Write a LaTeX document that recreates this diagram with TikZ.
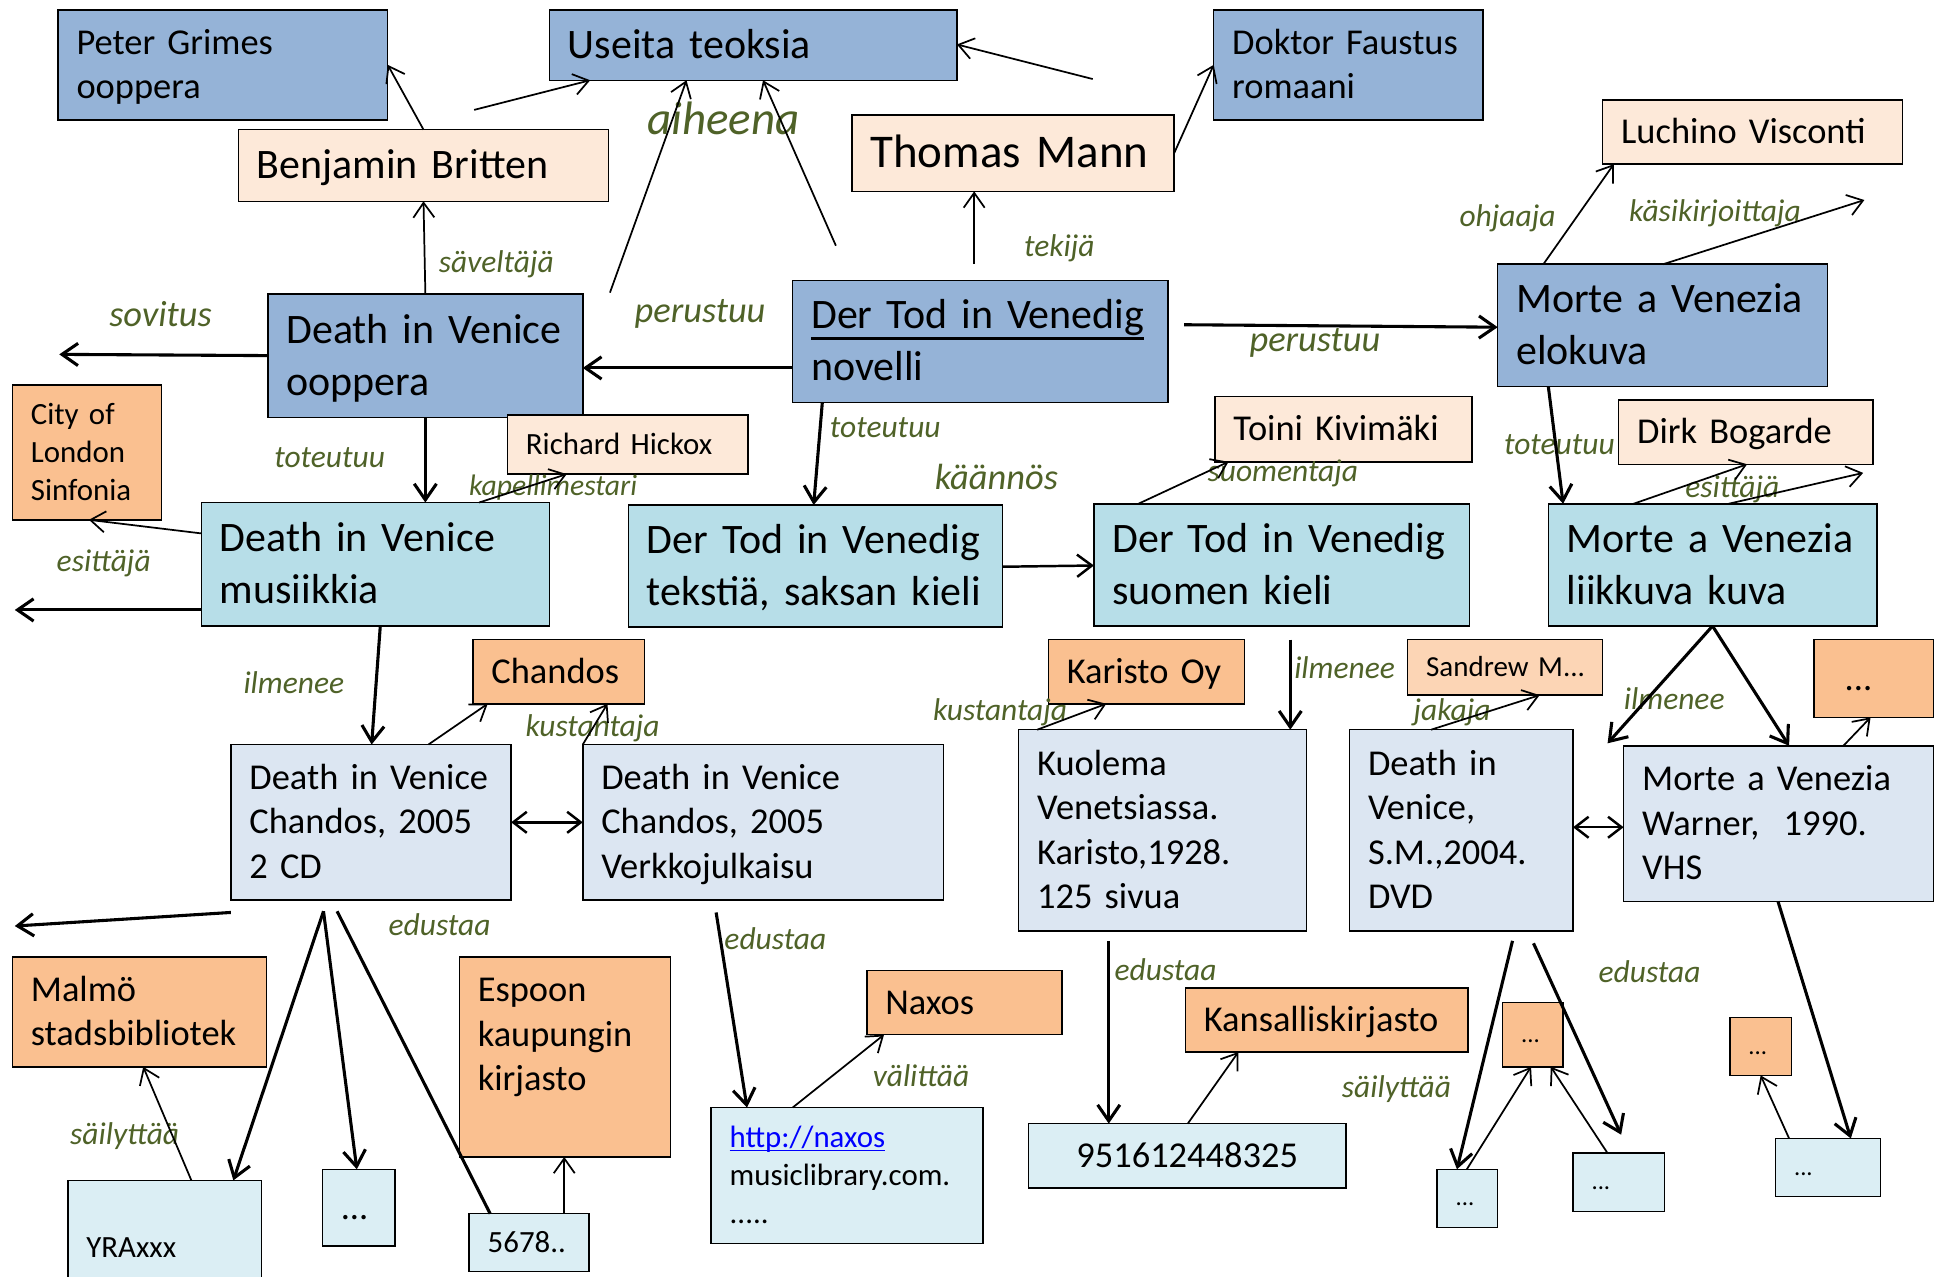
\documentclass[tikz,border=0pt]{standalone}
\usepackage{fontspec}
\setmainfont{Carlito}
\usepackage{tikz}
\usetikzlibrary{arrows.meta}

\definecolor{sininen}{HTML}{95B3D7}
\definecolor{turkoosi}{HTML}{B7DEE8}
\definecolor{haalea}{HTML}{DCE6F2}
\definecolor{vaalea}{HTML}{DBEEF4}
\definecolor{persikka}{HTML}{FDE9D9}
\definecolor{oranssi}{HTML}{FAC090}
\definecolor{aprikoosi}{HTML}{FCD5B5}
\definecolor{vihrea}{HTML}{4F6228}
\definecolor{linkki}{HTML}{0000FF}

% box: style, name, x1, y1, x2, y2, text
\newcommand{\mystrut}{\rule[-0.24\baselineskip]{0pt}{\baselineskip}}
\newcommand{\laatikko}[7]{%
  \pgfmathsetmacro\mywidth{#5-#3}%
  \pgfmathsetmacro\myheight{#6-#4}%
  \pgfmathsetmacro\mytext{#5-#3-30}%
  \node[boksi,#1,minimum width=\mywidth pt,minimum height=\myheight pt,text width=\mytext pt] (#2) at (#3,#4) {\mystrut #7\mystrut};%
}
\newcommand{\alleviiva}[3]{\setbox0\hbox{#1}\rlap{\rule[#2]{\wd0}{#3}}\box0}

\tikzset{
  boksi/.style={draw=black, line width=1.2pt, rectangle, anchor=north west, inner xsep=15pt, inner ysep=2pt, outer sep=0pt, align=left},
  teos/.style={fill=sininen},
  ilmaisu/.style={fill=turkoosi},
  julkaisu/.style={fill=haalea},
  kappale/.style={fill=vaalea},
  henkilo/.style={fill=persikka},
  yhteiso/.style={fill=oranssi},
  jakelija/.style={fill=aprikoosi},
  jattiiso/.style={font=\fontsize{38}{46}\selectfont},
  iso/.style={font=\fontsize{34}{42}\selectfont},
  keski/.style={font=\fontsize{29.5}{36}\selectfont},
  pieni/.style={font=\fontsize{25}{31}\selectfont},
  pisteet/.style={font=\fontsize{20}{24}\selectfont},
  suhde/.style={text=vihrea, inner sep=0pt, font=\itshape\fontsize{25.5}{30}\selectfont},
  suhdeiso/.style={suhde, font=\itshape\fontsize{29.5}{35}\selectfont},
  ohut/.style={line width=1.4pt, -{Straight Barb[length=12pt,width=17pt]}},
  vali/.style={line width=2pt, -{Straight Barb[length=12pt,width=18pt]}},
  paksu/.style={line width=2.5pt, -{Straight Barb[length=13pt,width=18pt]}},
  kaksi/.style={line width=2pt, {Straight Barb[length=11pt,width=17pt]}-{Straight Barb[length=11pt,width=17pt]}},
  viiva/.style={line width=2.5pt}
}

\begin{document}
\begin{tikzpicture}[x=1pt,y=-1pt]
\useasboundingbox (0,0) rectangle (1568,1034.25);
\fill[white] (0,0) rectangle (1568,1034.25);

% teokset
\laatikko{teos,keski}{peter}{47}{8}{314}{97}{Peter Grimes\\ooppera}
\laatikko{teos,iso}{useita}{445}{8}{775}{65}{Useita teoksia}
\laatikko{teos,keski}{faustus}{983}{8}{1201}{97}{Doktor Faustus\\romaani}
\laatikko{teos,iso}{dvooppera}{217}{238}{472}{338}{Death in Venice\\ooppera}
\laatikko{teos,iso}{novelli}{642}{227}{946}{326}{\alleviiva{Der Tod in Venedig}{-9pt}{2.6pt}\\novelli}
\laatikko{teos,iso}{elokuva}{1213}{214}{1480}{313}{Morte a Venezia\\elokuva}

% henkilot
\laatikko{henkilo,iso}{britten}{193}{105}{493}{163}{Benjamin Britten}
\laatikko{henkilo,jattiiso}{mann}{690}{93}{951}{155}{Thomas Mann}
\laatikko{henkilo,keski}{visconti}{1298}{81}{1541}{133}{Luchino Visconti}
\laatikko{henkilo,pieni}{hickox}{411}{336}{606}{384}{Richard Hickox}
\laatikko{henkilo,keski}{kivimaki}{984}{321}{1192}{374}{Toini Kivimäki}
\laatikko{henkilo,keski}{bogarde}{1311}{324}{1517}{376}{Dirk Bogarde}

% ilmaisut
\laatikko{ilmaisu,iso}{musiikkia}{163}{407}{445}{507}{Death in Venice\\musiikkia}
\laatikko{ilmaisu,iso}{saksa}{509}{409}{812}{508}{Der Tod in Venedig\\tekstiä, saksan kieli}
\laatikko{ilmaisu,iso}{suomi}{886}{408}{1190}{507}{Der Tod in Venedig\\suomen kieli}
\laatikko{ilmaisu,iso}{liikkuva}{1254}{408}{1520}{507}{Morte a Venezia\\liikkuva kuva}

% yhteisot
\laatikko{yhteiso,pieni}{sinfonia}{10}{312}{131}{421}{City of\\London\\Sinfonia}
\laatikko{yhteiso,keski}{chandos}{383}{518}{522}{570}{Chandos}
\laatikko{yhteiso,keski}{karisto}{849}{518}{1008}{570}{Karisto~Oy}
\laatikko{jakelija,font=\fontsize{23.5}{29}\selectfont}{sandrew}{1140}{518}{1298}{563}{Sandrew~M...}
\laatikko{yhteiso,keski}{kolme}{1469}{518}{1566}{581}{\hspace*{10pt}...}
\laatikko{yhteiso,keski}{malmo}{10}{775}{216}{864}{Malmö\\stadsbibliotek}
\laatikko{yhteiso,keski}{espoo}{372}{775}{543}{937}{Espoon\\kaupungin\\kirjasto\\\mbox{}}
\laatikko{yhteiso,keski}{naxos}{702}{786}{860}{838}{Naxos}
\laatikko{yhteiso,keski}{kansallis}{960}{800}{1189}{852}{Kansalliskirjasto}
\foreach \nimi/\xa/\ya/\xb/\yb in {oranssiA/1217/812/1266/864, oranssiB/1401/824/1451/871}
  \laatikko{yhteiso,pisteet}{\nimi}{\xa}{\ya}{\xb}{\yb}{...};

% julkaisut
\laatikko{julkaisu,keski}{cd}{187}{603}{414}{729}{Death in Venice\\Chandos, 2005\\2 CD}
\laatikko{julkaisu,keski}{verkko}{472}{603}{764}{729}{Death in Venice\\Chandos, 2005\\Verkkojulkaisu}
\laatikko{julkaisu,keski}{kuolema}{825}{591}{1058}{754}{Kuolema\\Venetsiassa.\\Karisto,1928.\\125 sivua}
\laatikko{julkaisu,keski}{dvd}{1093}{591}{1274}{754}{Death in\\Venice,\\S.M.,2004.\\DVD}
\laatikko{julkaisu,keski}{vhs}{1315}{604}{1566}{730}{Morte a Venezia\\Warner,~~1990.\\VHS}

% kappaleet
\laatikko{kappale,pieni}{yra}{55}{956}{212}{1064}{YRAxxx}
\laatikko{kappale,keski}{pisteA}{261}{947}{320}{1009}{...}
\laatikko{kappale,pieni}{numero}{380}{983}{477}{1030}{5678..}
\laatikko{kappale,pieni}{linkki}{576}{897}{796}{1007}{{\color{linkki}\alleviiva{http://naxos}{-3.5pt}{1.5pt}}\\musiclibrary.com.\\.....}
\laatikko{kappale,keski,align=center}{isbn}{833}{910}{1090}{962}{951612448325}
\foreach \nimi/\xa/\ya/\xb/\yb in {pisteB/1164/947/1213/994, pisteC/1274/934/1348/981, pisteD/1438/922/1523/969}
  \laatikko{kappale,pisteet}{\nimi}{\xa}{\ya}{\xb}{\yb}{...};

% suhteet
\foreach \x/\y/\teksti [count=\i] in {402/214/säveltäjä, 858/201/tekijä, 267/371/toteutuu, 717/346/toteutuu,
  1263/360/toteutuu, 84/456/esittäjä, 1403/396/esittäjä, 1221/177/ohjaaja, 1389/173/käsikirjoittaja,
  1039/383/suomentaja, 238/553/ilmenee, 1089/541/ilmenee, 1356/566/ilmenee, 480/590/kustantaja,
  810/577/kustantaja, 1176/577/jakaja, 356/749/edustaa, 628/760/edustaa, 944/785/edustaa,
  1336/787/edustaa, 101/920/säilyttää, 1131/882/säilyttää, 746/871/välittää}
  \node[suhde] (suhde\i) at (\x,\y) {\teksti};
\foreach \x/\y/\teksti [count=\i] in {130/254/sovitus, 567/254/perustuu, 1065/278/perustuu, 807/386/käännös}
  \node[suhdeiso] (suhdeiso\i) at (\x,\y) {\teksti};
\node[suhde, font=\itshape\fontsize{24}{28}\selectfont] (kapelli) at (448,395) {kapellimestari};
\node[suhde, font=\itshape\fontsize{38}{44}\selectfont] (aiheena) at (586,96) {aiheena};

% ylaosa
\coordinate (a1) at (384,89);
\coordinate (a2) at (494,237);
\coordinate (a3) at (677,199);
\coordinate (a4) at (885,64);
\coordinate (a5) at (789,214);
\coordinate (a6) at (48,287);
\coordinate (a7) at (12,494);
\coordinate (a8) at (1510,162);
\coordinate (a9) at (959,263);
\coordinate (a10) at (1509,383);
\draw[ohut] (britten.north) -- (peter.east);
\draw[ohut] (a1) -- (useita.south -| 478,0);
\draw[ohut] (dvooppera.north) -- (britten.south);
\draw[ohut] (a2) -- (useita.south -| 556,0);
\draw[ohut] (a3) -- (useita.south -| 618,0);
\draw[ohut] (a4) -- (useita.east |- 0,36);
\draw[ohut] (mann.east) -- (faustus.west);
\draw[ohut] (a5) -- (mann.south -| 789,0);
\draw[paksu] (novelli.west |- 0,298) -- (dvooppera.east |- 0,298);
\draw[paksu] (dvooppera.west) -- (a6);
\draw[paksu] (dvooppera.south) -- (musiikkia.north -| dvooppera.south);
\draw[ohut] (musiikkia.north -| 388,0) -- (hickox.south -| 459,0);
\draw[ohut] (musiikkia.west |- 0,432) -- (sinfonia.south -| 72,0);
\draw[paksu] (musiikkia.west |- 0,494) -- (a7);
\draw[paksu] (novelli.south -| 666,0) -- (saksa.north -| 659,0);
\draw[vali] (saksa.east |- 0,459) -- (suomi.west |- 0,458);
\draw[ohut] (suomi.north -| 922,0) -- (kivimaki.south -| 995,0);
\draw[ohut] (elokuva.north -| 1250,0) -- (visconti.south -| 1307,0);
\draw[ohut] (elokuva.north -| 1347,0) -- (a8);
\draw[paksu] (a9) -- (elokuva.west |- 0,265);
\draw[paksu] (elokuva.south -| 1254,0) -- (liikkuva.north -| 1266,0);
\draw[ohut] (liikkuva.north -| 1323,0) -- (bogarde.south -| 1415,0);
\draw[ohut] (liikkuva.north -| 1400,0) -- (a10);

% alaosa
\coordinate (b1) at (12,750);
\coordinate (b2) at (262,738);
\coordinate (b3) at (273,738);
\coordinate (b4) at (580,739);
\coordinate (b5) at (1045,518);
\coordinate (b6) at (1302,602);
\coordinate (b7) at (898,762);
\coordinate (b8) at (1225,762);
\coordinate (b9) at (1242,764);
\coordinate (b10) at (1313,919);
\draw[paksu] (musiikkia.south -| 308,0) -- (cd.north -| 301,0);
\draw[ohut] (cd.north -| 347,0) -- (chandos.south -| 395,0);
\draw[ohut] (verkko.north west) -- (chandos.south -| 492,0);
\draw[kaksi] (cd.east |- 0,666) -- (verkko.west |- 0,666);
\draw[paksu] ([yshift=-10pt]cd.south west) -- (b1);
\draw[paksu] (b2) -- (yra.north -| 189,0);
\draw[paksu] (b2) -- (pisteA.north -| 289,0);
\draw[viiva] (b3) -- (numero.north -| 397,0);
\draw[ohut] (numero.north -| 457,0) -- (espoo.south -| 457,0);
\draw[ohut] (yra.north -| 155,0) -- (malmo.south -| 116,0);
\draw[paksu] (b4) -- (linkki.north -| 605,0);
\draw[ohut] (linkki.north -| 642,0) -- (naxos.south -| 716,0);
\draw[paksu] (b5) -- (kuolema.north -| 1045,0);
\draw[ohut] (kuolema.north -| 840,0) -- (karisto.south -| 896,0);
\draw[ohut] (dvd.north -| 1159,0) -- (sandrew.south -| 1247,0);
\draw[paksu] (liikkuva.south) -- (b6);
\draw[paksu] (liikkuva.south) -- (vhs.north -| 1449,0);
\draw[kaksi] (dvd.east |- 0,670) -- (vhs.west |- 0,670);
\draw[ohut] (vhs.north -| 1493,0) -- (kolme.south -| 1515,0);
\draw[paksu] (b7) -- (isbn.north -| 898,0);
\draw[ohut] (isbn.north -| 962,0) -- (kansallis.south -| 1003,0);
\draw[paksu] (b8) -- (pisteB.north -| 1180,0);
\draw[paksu] (b9) -- (b10);
\draw[ohut] (pisteB.north -| 1188,0) -- (oranssiA.south -| 1240,0);
\draw[ohut] (pisteC.north -| 1302,0) -- (oranssiA.south -| 1256,0);
\draw[paksu] (vhs.south -| 1440,0) -- (pisteD.north -| 1499,0);
\draw[ohut] (pisteD.north -| 1449,0) -- (oranssiB.south -| 1426,0);
\end{tikzpicture}
\end{document}
